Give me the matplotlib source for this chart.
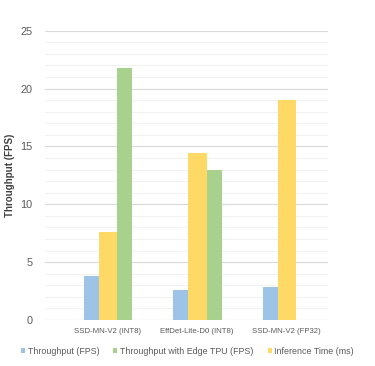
import matplotlib
matplotlib.use("Agg")
import matplotlib.pyplot as plt
import numpy as np
from matplotlib.ticker import MultipleLocator

categories = ["SSD-MN-V2 (INT8)", "EffDet-Lite-D0 (INT8)", "SSD-MN-V2 (FP32)"]
throughput = [3.8, 2.55, 2.85]
throughput_tpu = [21.8, 13.0, 0.0]
inference_ms = [7.6, 14.45, 19.05]
yticks = [0, 5, 10, 15, 20, 25]

c_blue = "#9DC3E6"
c_green = "#A9D18E"
c_yellow = "#FFD966"

plt.rcParams['font.family'] = ['Liberation Sans', 'DejaVu Sans']

fig = plt.figure(figsize=(3.75, 3.66), dpi=100)
ax = fig.add_axes([45/375, 1-320/366, (328-45)/375, (320-30.7)/366])

x = np.arange(len(categories))
ax.bar(x - 0.185, throughput, width=0.17, color=c_blue, label="Throughput (FPS)", zorder=3)
ax.bar(x + 0.19, throughput_tpu, width=0.165, color=c_green, label="Throughput with Edge TPU (FPS)", zorder=3)
ax.bar(x + 0.004, inference_ms, width=0.205, color=c_yellow, label="Inference Time (ms)", zorder=4)

ax.set_xlim(-0.70, 2.46)
ax.set_ylim(0, 25)
ax.set_yticks(yticks)
ax.yaxis.set_minor_locator(MultipleLocator(1))
ax.grid(axis='y', which='major', color='#D9D9D9', linewidth=0.8, zorder=0)
ax.grid(axis='y', which='minor', color='#EFEFEF', linewidth=0.6, zorder=0)
ax.set_xticks(x)
ax.set_xticklabels(categories, fontsize=5.6, color='#595959')
ax.tick_params(axis='y', labelsize=7.8, colors='#595959', length=0, pad=9)
ax.tick_params(axis='x', length=0, pad=6)
ax.tick_params(axis='y', which='minor', length=0)
for s in ax.spines.values():
    s.set_visible(False)
ax.axhline(0, color='#D9D9D9', linewidth=0.8, zorder=2)

ax.set_ylabel("Throughput (FPS)", fontsize=7, fontweight='bold', color='#404040', labelpad=4)

handles, labels = ax.get_legend_handles_labels()
leg = fig.legend(handles, labels,
                 loc='center', bbox_to_anchor=(0.5, 1-351/366), ncol=3, frameon=False,
                 fontsize=6.4, handlelength=0.45, handleheight=0.45, handletextpad=0.3,
                 columnspacing=1.6, labelcolor='#595959')

fig.savefig("out.png", dpi=100, facecolor='white')
